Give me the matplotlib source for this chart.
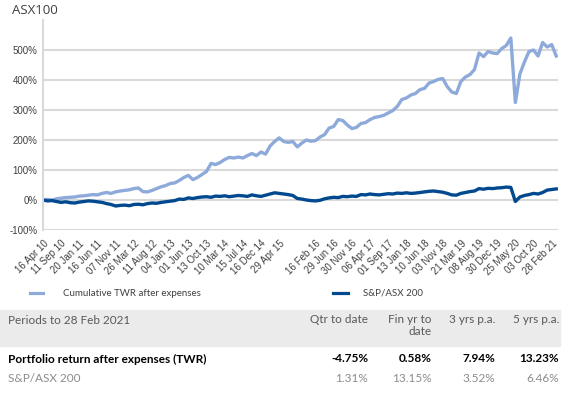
import numpy as np
import matplotlib
matplotlib.use("Agg")
import matplotlib.pyplot as plt
from matplotlib.patches import Rectangle

# tick labels on the category axis (one slot is blank in the source)
tick_labels = ["16 Apr 10", "11 Sep 10", "20 Jan 11", "16 Jun 11", "07 Nov 11",
               "26 Mar 12", "11 Aug 12", "04 Jan 13", "01 Jun 13", "13 Oct 13",
               "10 Mar 14", "15 Jul 14", "16 Dec 14", "29 Apr 15", "",
               "16 Feb 16", "29 Jun 16", "30 Nov 16", "06 Apr 17", "01 Sep 17",
               "13 Jan 18", "10 Jun 18", "03 Nov 18", "21 Mar 19", "08 Aug 19",
               "30 Dec 19", "25 May 20", "03 Oct 20", "28 Feb 21"]
points_per_label = 4

# cumulative TWR after expenses (%)
twr = [0, 2, 0, 4, 6, 8, 9, 10, 13, 14, 16, 18, 17, 22, 25, 22, 27, 30, 32, 34,
       38, 40, 28, 27, 32, 38, 44, 48, 55, 57, 65, 75, 82, 68, 75, 85, 95, 122, 118, 125,
       135, 142, 140, 143, 140, 148, 155, 148, 160, 153, 180, 195, 207, 195, 192, 195, 177, 190, 200, 196,
       198, 210, 218, 240, 245, 268, 265, 250, 238, 242, 255, 258, 268, 275, 278, 282, 290, 298, 312, 335,
       340, 350, 355, 368, 372, 390, 395, 402, 405, 378, 360, 355, 395, 410, 418, 435, 490, 478, 495, 490,
       488, 505, 515, 540, 325, 420, 460, 495, 500, 480, 525, 510, 518, 480]

# S&P/ASX 200 (%)
asx200 = [0, -3, -2, -5, -8, -6, -9, -10, -7, -5, -3, -4, -6, -8, -12, -15, -20, -18, -17, -19,
          -15, -14, -16, -12, -10, -11, -8, -6, -4, -2, 3, 2, 7, 5, 8, 10, 11, 9, 13, 12,
          14, 11, 13, 15, 14, 12, 17, 14, 12, 16, 20, 24, 22, 20, 18, 15, 5, 3, 0, -2,
          -3, -1, 4, 7, 9, 8, 12, 11, 13, 12, 18, 17, 20, 18, 17, 19, 21, 20, 23, 22,
          24, 22, 23, 25, 27, 29, 30, 28, 26, 22, 17, 16, 22, 25, 28, 30, 38, 36, 39, 38,
          40, 41, 43, 42, -5, 10, 15, 18, 22, 20, 25, 33, 35, 37]

table_header = ["Periods to 28 Feb 2021", "Qtr to date", "Fin yr to\ndate", "3 yrs p.a.", "5 yrs p.a."]
portfolio_row = ["Portfolio return after expenses (TWR)", "-4.75%", "0.58%", "7.94%", "13.23%"]
index_row = ["S&P/ASX 200", "1.31%", "13.15%", "3.52%", "6.46%"]

W, H = 574, 396
light = "#8eaadb"
dark = "#00498f"
grey_txt = "#595959"

fig = plt.figure(figsize=(W / 100, H / 100), dpi=100)
ax = fig.add_axes([43 / W, 1 - 230 / H, (557.6 - 43) / W, 210 / H])

x = np.arange(len(twr))
ax.plot(x, twr, color=light, lw=2.4, solid_joinstyle="round")
ax.plot(np.arange(len(asx200)), asx200, color=dark, lw=2.4, solid_joinstyle="round")

ax.set_ylim(-100, 600)
ax.set_xlim(0, len(twr) - 1 + 0.3)
ax.set_yticks(range(-100, 501, 100))
ax.set_yticklabels([f"{v}%" for v in range(-100, 501, 100)], fontsize=7,
                   color="#404040", family="Liberation Sans")
ax.yaxis.grid(True, color="#d9d9d9", lw=1.5)
ax.set_axisbelow(True)

ax.set_xticks(np.arange(len(tick_labels)) * points_per_label)
ax.set_xticklabels(tick_labels, rotation=45, ha="right", va="top", rotation_mode="anchor",
                   fontsize=7, color="#404040", family="Liberation Sans")
ax.tick_params(length=0, pad=4)
ax.tick_params(axis="x", pad=6)
for s in ["top", "right", "bottom"]:
    ax.spines[s].set_visible(False)
ax.spines["left"].set_color("#d9d9d9")
ax.spines["left"].set_linewidth(1.5)

fig.text(12 / W, 1 - 11 / H, "ASX100", fontsize=9.5, color="#404040",
         family="Open Sans", va="center", ha="left")


def px(xp, yp):
    return xp / W, 1 - yp / H


# legend
fig.add_artist(plt.Line2D([30 / W, 43 / W], [1 - 293 / H] * 2, color=light, lw=2.3))
fig.text(*px(63, 293), "Cumulative TWR after expenses", fontsize=7, color="#404040",
         family="Lato", va="center")
fig.add_artist(plt.Line2D([333 / W, 348 / W], [1 - 293 / H] * 2, color=dark, lw=2.3))
fig.text(*px(363, 293), "S&P/ASX 200", fontsize=7, color="#404040",
         family="Lato", va="center")

# table
fig.add_artist(Rectangle(px(0, 346), 560 / W, 36 / H, transform=fig.transFigure,
                         color="#ebebeb", zorder=0))
col_right = [368, 432, 495, 559]
fig.text(*px(8, 321), table_header[0], fontsize=8.5, color=grey_txt, family="Lato", va="center")
for cx, lab in zip(col_right, table_header[1:]):
    fig.text(cx / W, 1 - 314 / H, lab, fontsize=8.5, color=grey_txt, family="Lato",
             ha="right", va="top", linespacing=1.15, multialignment="right")

fig.text(*px(8, 359), portfolio_row[0], fontsize=8.5, color="black", family="Lato",
         weight="bold", va="center")
for cx, lab in zip(col_right, portfolio_row[1:]):
    fig.text(*px(cx, 359), lab, fontsize=8.5, color="black", family="Lato",
             weight="bold", va="center", ha="right")

fig.text(*px(8, 378), index_row[0], fontsize=8.5, color="#8c8c8c", family="Lato", va="center")
for cx, lab in zip(col_right, index_row[1:]):
    fig.text(*px(cx, 378), lab, fontsize=8.5, color="#8c8c8c", family="Lato",
             va="center", ha="right")

fig.savefig("out.png", dpi=100)
